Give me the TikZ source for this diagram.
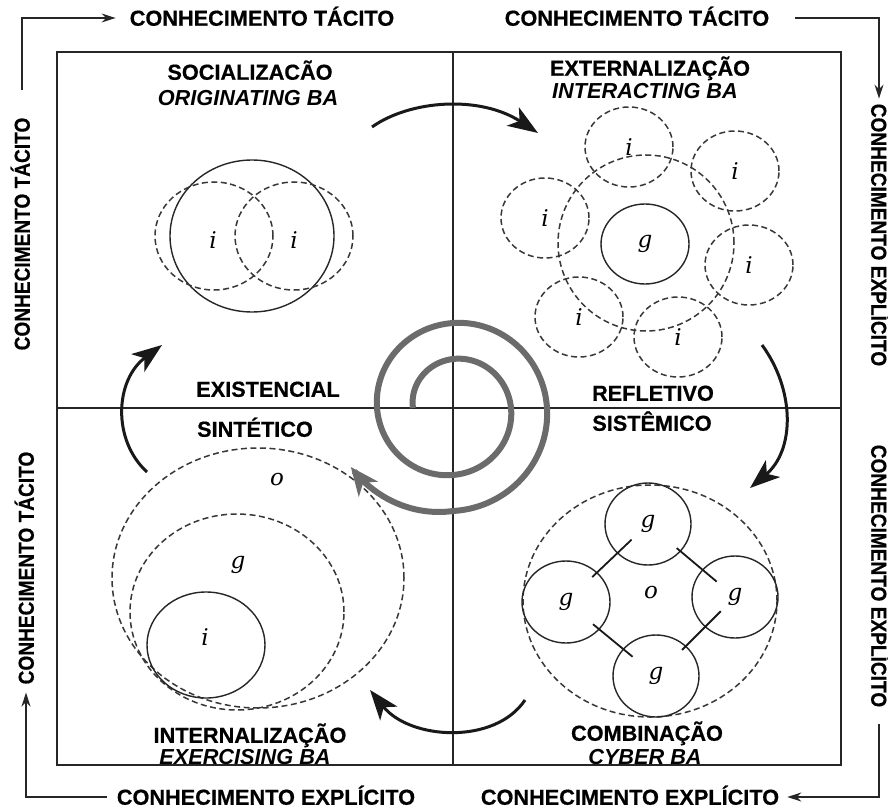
\documentclass[tikz,border=0pt]{standalone}
\usepackage{fontspec}
\setmainfont{Liberation Sans}[BoldFeatures={FakeBold=0.6}]
\newfontfamily\letfont{DejaVu Serif}
\usetikzlibrary{arrows.meta,shapes.geometric,calc}
\begin{document}
\begin{tikzpicture}[x=1pt,y=-1pt,
  lbl/.style={font=\fontsize{21.7}{24}\selectfont\bfseries, inner sep=0pt, text height=15.5pt, text depth=0pt},
  ilbl/.style={font=\fontsize{21.7}{24}\selectfont\bfseries\itshape, inner sep=0pt, text height=15.5pt, text depth=0pt},
  lett/.style={font=\letfont\itshape\fontsize{23}{26}\selectfont, inner sep=0pt},
  dashc/.style={ellipse, draw=black!78, line width=1.5pt, dash pattern=on 6pt off 3.5pt, inner sep=0pt},
  solidc/.style={ellipse, draw=black!85, line width=1.4pt, inner sep=0pt},
  frame/.style={draw=black!85, line width=1.4pt},
  cornerarrow/.style={draw=black!85, line width=1.6pt, -{Stealth[length=14pt,width=9pt]}},
  bigarrow/.style={draw=black!90, line width=3pt, -{Stealth[length=30pt,width=22pt,inset=8pt]}},
  spiral/.style={draw=black!58, line width=6pt, -{Stealth[length=28pt,width=24pt,inset=8pt]}},
  link/.style={draw=black!90, line width=1.8pt}
]
\useasboundingbox (0,0) rectangle (888,810);
\fill[white] (0,0) rectangle (888,810);

% frame
\draw[frame] (57,52) rectangle (841,765);
\draw[frame] (453,52) -- (453,765);
\draw[frame] (57,408) -- (841,408);

% outer labels
\node[lbl] (tl) at (262,18) {CONHECIMENTO TÁCITO};
\node[lbl] (tr) at (637,18) {CONHECIMENTO TÁCITO};
\node[lbl] (bl) at (266,797) {CONHECIMENTO EXPLÍCITO};
\node[lbl] (br) at (630,797) {CONHECIMENTO EXPLÍCITO};
\node[lbl, rotate=90] (lu) at (22,234) {\scalebox{0.88}[1]{CONHECIMENTO TÁCITO}};
\node[lbl, rotate=90] (ll) at (26,568) {\scalebox{0.88}[1]{CONHECIMENTO TÁCITO}};
\node[lbl, rotate=-90] (ru) at (879,235) {\scalebox{0.88}[1]{CONHECIMENTO EXPLÍCITO}};
\node[lbl, rotate=-90] (rl) at (879,576) {\scalebox{0.88}[1]{CONHECIMENTO EXPLÍCITO}};

\draw[cornerarrow] ([yshift=27pt]lu.east) |- ([xshift=-14pt]tl.west);
\draw[cornerarrow] ([xshift=26pt]tr.east) -| ([yshift=5pt]ru.west);
\draw[cornerarrow] ([yshift=-17pt]rl.east) |- ([xshift=8pt]br.east);
\draw[cornerarrow] ([xshift=-10pt]bl.west) -| ([yshift=-8pt]ll.west);

% quadrant titles
\node[lbl] (soc) at (250,72) {SOCIALIZACÃO};
\node[ilbl] (socba) at (248,98) {ORIGINATING BA};
\node[lbl] (ext) at (650,68) {EXTERNALIZAÇÃO};
\node[ilbl] (extba) at (645,91) {INTERACTING BA};
\node[lbl] (int) at (250,735) {INTERNALIZAÇÃO};
\node[ilbl] (intba) at (245,757) {EXERCISING BA};
\node[lbl] (comb) at (647,733) {COMBINAÇÃO};
\node[ilbl] (combba) at (645,757) {CYBER BA};
\node[lbl] (exi) at (268,389) {EXISTENCIAL};
\node[lbl] (sin) at (255,429) {SINTÉTICO};
\node[lbl] (ref) at (653,393) {REFLETIVO};
\node[lbl] (sis) at (652,423) {SISTÊMICO};

% socialization
\node[solidc, minimum width=164pt, minimum height=152pt] (sc) at (252,236) {};
\node[dashc, minimum width=118pt, minimum height=108pt] (sl) at (214,236) {};
\node[dashc, minimum width=118pt, minimum height=108pt] (sr) at (294,236) {};
\node[lett] (sli) at (213,240) {i};
\node[lett] (sri) at (294,240) {i};

% externalization
\node[dashc, minimum width=176pt, minimum height=176pt] (eb) at (646,243) {};
\node[solidc, minimum width=88pt, minimum height=80pt, lett] (eg) at (645,244) {g};
\node[dashc, minimum width=88pt, minimum height=80pt, lett] (e1) at (629,147) {i};
\node[dashc, minimum width=88pt, minimum height=80pt, lett] (e2) at (735,171) {i};
\node[dashc, minimum width=88pt, minimum height=80pt, lett] (e3) at (545,218) {i};
\node[dashc, minimum width=88pt, minimum height=80pt, lett] (e4) at (749,265) {i};
\node[dashc, minimum width=88pt, minimum height=80pt, lett] (e5) at (579,317) {i};
\node[dashc, minimum width=88pt, minimum height=80pt, lett] (e6) at (678,337) {i};

% internalization
\node[dashc, minimum width=292pt, minimum height=260pt] (io) at (258,578) {};
\node[dashc, minimum width=214pt, minimum height=196pt] (ig) at (237,612) {};
\node[solidc, minimum width=118pt, minimum height=106pt] (ii) at (206,645) {};
\node[lett] (iol) at (277,480) {o};
\node[lett] (igl) at (238,565) {g};
\node[lett] (iil) at (205,637) {i};

% combination
\node[dashc, minimum width=254pt, minimum height=232pt] (co) at (650,601) {};
\node[lett] (col) at (651,593) {o};
\node[solidc, minimum width=86pt, minimum height=82pt, lett] (gT) at (648,524) {g};
\node[solidc, minimum width=88pt, minimum height=82pt, lett] (gL) at (566,602) {g};
\node[solidc, minimum width=86pt, minimum height=82pt, lett] (gR) at (735,597) {g};
\node[solidc, minimum width=86pt, minimum height=82pt, lett] (gB) at (656,676) {g};
\draw[link] ($(gL)!0.32!(gT)$) -- ($(gL)!0.80!(gT)$);
\draw[link] ($(gT)!0.33!(gR)$) -- ($(gT)!0.79!(gR)$);
\draw[link] ($(gL)!0.30!(gB)$) -- ($(gL)!0.74!(gB)$);
\draw[link] ($(gB)!0.33!(gR)$) -- ($(gB)!0.82!(gR)$);

% cycle arrows
\coordinate (a1s) at (372,127); \coordinate (a1e) at (538,133);
\draw[bigarrow] (a1s) .. controls (410,100) and (480,95) .. (a1e);
\coordinate (a2s) at (762,345); \coordinate (a2e) at (750,488);
\draw[bigarrow] (a2s) .. controls (795,390) and (795,450) .. (a2e);
\coordinate (a3s) at (525,700); \coordinate (a3e) at (370,690);
\draw[bigarrow] (a3s) .. controls (495,745) and (410,740) .. (a3e);
\coordinate (a4s) at (147,472); \coordinate (a4e) at (162,345);
\draw[bigarrow] (a4s) .. controls (112,440) and (115,380) .. (a4e);

% spiral
\draw[spiral] plot[domain=180:870, samples=260, variable=\t]
  ({453+(40+0.1*(\t-180)+0.15*max(\t-810,0))*cos(\t)},
   {408+(40+0.1*(\t-180)+0.15*max(\t-810,0))*sin(\t)});
\end{tikzpicture}
\end{document}
